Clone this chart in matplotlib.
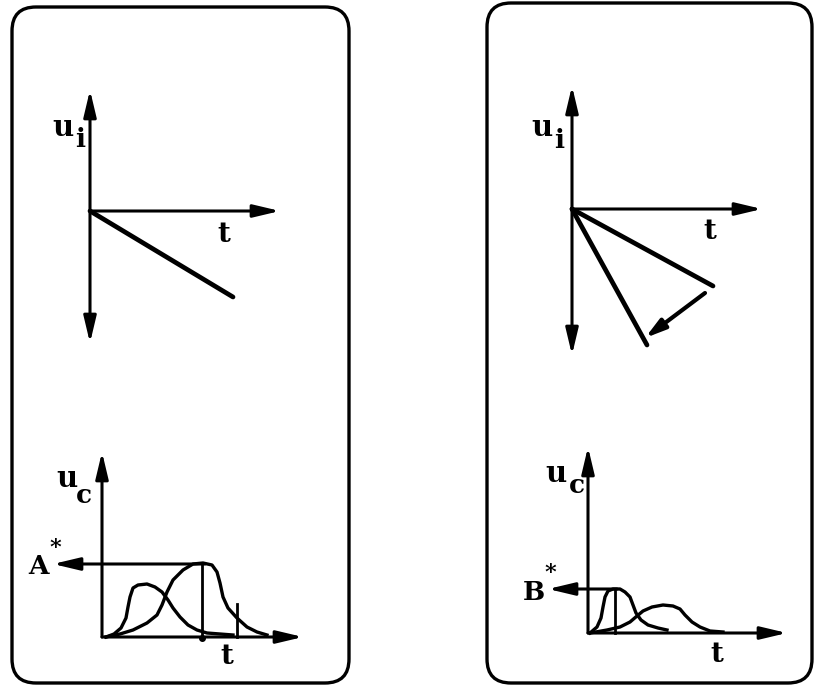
import matplotlib
matplotlib.use("Agg")
import matplotlib.pyplot as plt
from matplotlib.patches import FancyBboxPatch

# ---------------- data (pixel-space schematic) ----------
# panel frames: (x0, y0, x1, y1)
frame_left = (12, 7, 349, 683)
frame_right = (487, 3, 812, 683)

# top-left: input ramp
tl_origin = (90, 211)
tl_vaxis = (90, 343)           # y of top and bottom arrow tips
tl_haxis_end = 280
tl_ramp_end = (233, 297)

# top-right: two ramps + rotation arrow
tr_origin = (572, 209)
tr_vaxis = (86, 355)
tr_haxis_end = 762
tr_ramp1_end = (713, 286)
tr_ramp2_end = (647, 345)
tr_arrow = ((705, 293), (645, 338))

# bottom-left: output peaks
bl_origin = (102, 637)
bl_vaxis_top = 452
bl_haxis_end = 303
bl_level = 564
bl_level_tip = 53
bl_level_start = 205
bl_c1_x = [106, 114, 121, 126, 128, 130, 133, 138, 147, 155, 162, 168, 173, 180, 188, 197, 207, 220, 233]
bl_c1_y = [637, 634, 628, 618, 607, 597, 588, 585, 584, 587, 592, 600, 608, 617, 625, 630, 633, 634, 635]
bl_c2_x = [106, 120, 133, 147, 157, 162, 167, 173, 183, 193, 203, 212, 217, 220, 223, 228, 237, 247, 257, 267]
bl_c2_y = [637, 634, 630, 623, 615, 605, 592, 580, 570, 564, 563, 565, 572, 583, 597, 608, 618, 627, 632, 635]
bl_marks = [(202, 564), (237, 604)]   # (x, top y) of vertical markers

# bottom-right: output peaks
br_origin = (588, 633)
br_vaxis_top = 447
br_haxis_end = 787
br_level = 589
br_level_tip = 548
br_level_start = 617
br_c1_x = [590, 597, 601, 603, 605, 608, 613, 620, 625, 630, 633, 636, 641, 648, 658, 667]
br_c1_y = [633, 627, 618, 607, 597, 591, 589, 589, 592, 597, 605, 613, 620, 625, 628, 630]
br_c2_x = [590, 607, 620, 630, 637, 643, 652, 663, 673, 680, 685, 692, 700, 710, 723]
br_c2_y = [633, 630, 627, 622, 616, 611, 607, 605, 606, 609, 615, 622, 627, 631, 632]
br_marks = [(615, 589)]

# labels: (text, x, y, size)
labels = [
    ("u", 63, 127, 21), ("i", 80, 139, 19), ("t", 224, 234, 20),
    ("u", 542, 127, 21), ("i", 559, 140, 19), ("t", 710, 231, 20),
    ("u", 67, 478, 21), ("c", 84, 495, 19), ("A", 39, 567, 19), ("*", 55, 548, 16),
    ("t", 227, 656, 20),
    ("u", 556, 473, 21), ("c", 577, 485, 19), ("B", 534, 592, 19), ("*", 550, 573, 16),
    ("t", 717, 654, 20),
]

# ---------------- drawing ----------------
W, H = 814, 685
fig = plt.figure(figsize=(W / 100, H / 100), dpi=100)
ax = fig.add_axes([0, 0, 1, 1])
ax.set_xlim(0, W)
ax.set_ylim(H, 0)
ax.axis("off")

K = "black"
AX_LW = 2.2
ARW = "-|>,head_length=0.8,head_width=0.19"
ARW2 = "<|-|>,head_length=0.8,head_width=0.19"


def arrow(p0, p1, style=ARW, lw=AX_LW):
    ax.annotate("", xy=p1, xytext=p0,
                arrowprops=dict(arrowstyle=style, color=K, lw=lw,
                                shrinkA=0, shrinkB=0, mutation_scale=20))


for (x0, y0, x1, y1) in (frame_left, frame_right):
    ax.add_patch(FancyBboxPatch((x0, y0), x1 - x0, y1 - y0,
                                boxstyle="round,pad=0,rounding_size=24",
                                fc="none", ec=K, lw=2.4))

# top-left
ox, oy = tl_origin
arrow((ox, tl_vaxis[1]), (ox, tl_vaxis[0]), ARW2)
arrow((ox, oy), (tl_haxis_end, oy))
ax.plot([ox, tl_ramp_end[0]], [oy, tl_ramp_end[1]], color=K, lw=3.4,
        solid_capstyle="round")

# top-right
ox, oy = tr_origin
arrow((ox, tr_vaxis[1]), (ox, tr_vaxis[0]), ARW2)
arrow((ox, oy), (tr_haxis_end, oy))
for e in (tr_ramp1_end, tr_ramp2_end):
    ax.plot([ox, e[0]], [oy, e[1]], color=K, lw=3.4, solid_capstyle="round")
arrow(tr_arrow[0], tr_arrow[1], "-|>,head_length=0.6,head_width=0.17", lw=3.0)

# bottom-left
ox, oy = bl_origin
arrow((ox, oy), (ox, bl_vaxis_top))
arrow((ox, oy), (bl_haxis_end, oy))
arrow((bl_level_start, bl_level), (bl_level_tip, bl_level))
ax.plot(bl_c1_x, bl_c1_y, color=K, lw=2.4, solid_joinstyle="round")
ax.plot(bl_c2_x, bl_c2_y, color=K, lw=2.4, solid_joinstyle="round")
for mx, my in bl_marks:
    ax.plot([mx, mx], [my, oy], color=K, lw=2.0)
ax.plot([bl_marks[0][0]], [oy + 1], "o", color=K, ms=4)

# bottom-right
ox, oy = br_origin
arrow((ox, oy), (ox, br_vaxis_top))
arrow((ox, oy), (br_haxis_end, oy))
arrow((br_level_start, br_level), (br_level_tip, br_level))
ax.plot(br_c1_x, br_c1_y, color=K, lw=2.4, solid_joinstyle="round")
ax.plot(br_c2_x, br_c2_y, color=K, lw=2.4, solid_joinstyle="round")
for mx, my in br_marks:
    ax.plot([mx, mx], [my, oy], color=K, lw=2.0)

for s, x, y, fs in labels:
    ax.text(x, y, s, ha="center", va="center", fontsize=fs,
            family="DejaVu Serif", fontweight="bold", color=K)

fig.savefig("out.png", dpi=100, facecolor="white")
